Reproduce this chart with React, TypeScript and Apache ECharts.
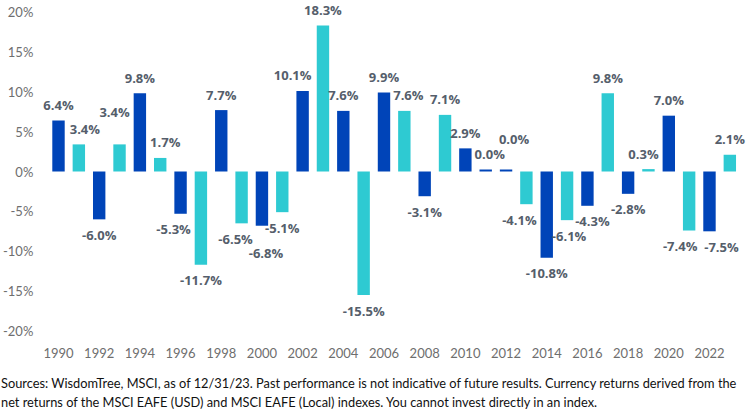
import React, { useEffect, useRef } from "react";
import * as echarts from "echarts";

const years = [
  "1990", "1991", "1992", "1993", "1994", "1995", "1996", "1997", "1998", "1999",
  "2000", "2001", "2002", "2003", "2004", "2005", "2006", "2007", "2008", "2009",
  "2010", "2011", "2012", "2013", "2014", "2015", "2016", "2017", "2018", "2019",
  "2020", "2021", "2022", "2023",
];
const returns = [
  6.4, 3.4, -6.0, 3.4, 9.8, 1.7, -5.3, -11.7, 7.7, -6.5,
  -6.8, -5.1, 10.1, 18.3, 7.6, -15.5, 9.9, 7.6, -3.1, 7.1,
  2.9, 0.0, 0.0, -4.1, -10.8, -6.1, -4.3, 9.8, -2.8, 0.3,
  7.0, -7.4, -7.5, 2.1,
];
// colour group per bar: 0 = dark blue, 1 = cyan
const colorGroup = [
  0, 1, 0, 1, 0, 1, 0, 1, 0, 1,
  0, 1, 0, 1, 0, 1, 0, 1, 0, 1,
  0, 0, 0, 1, 0, 1, 0, 1, 0, 1,
  0, 1, 0, 1,
];
const yTicks = { min: -20, max: 20, interval: 5 };
const footnote = [
  "Sources: WisdomTree, MSCI, as of 12/31/23. Past performance is not indicative of future results. Currency returns derived from the",
  "net returns of the MSCI EAFE (USD) and MSCI EAFE (Local) indexes. You cannot invest directly in an index.",
];

const COLORS = ["#0044B8", "#2ECAD2"];
const LABEL_COLOR = "#555E6B";
const AXIS_COLOR = "#6E6E6E";
const NARROW = "Lato, 'Open Sans', sans-serif";

// manual label nudges (style only), [dx, dy] in px
const labelOffsets: Record<string, [number, number]> = {
  "1991": [6, 0],
  "1993": [-5, -17],
  "1995": [5, 0],
  "1996": [-7, 0],
  "1999": [-6, 0],
  "2000": [4, 12],
  "2002": [-10, 0],
  "2007": [4, 0],
  "2011": [4, 0],
  "2012": [8, -15],
  "2013": [-7, 0],
  "2015": [2, 0],
  "2016": [5, 0],
  "2019": [-5, 0],
  "2021": [-9, 0],
  "2022": [12, 0],
};

export default function App() {
  const ref = useRef<HTMLDivElement>(null);
  useEffect(() => {
    if (!ref.current) return;
    const chart = echarts.init(ref.current, undefined, { renderer: "svg" });
    const data = returns.map((v, i) => ({
      value: v,
      itemStyle: { color: COLORS[colorGroup[i]] },
      label: {
        position: v < 0 ? "bottom" : "top",
        offset: labelOffsets[years[i]] || [0, 0],
      },
    }));
    chart.setOption({
      animation: false,
      backgroundColor: "#ffffff",
      grid: { left: 46, right: 7, top: 12, bottom: 86, containLabel: false },
      xAxis: {
        type: "category",
        data: years,
        axisLine: { show: false },
        axisTick: { show: false },
        axisLabel: {
          interval: 1,
          color: AXIS_COLOR,
          fontFamily: NARROW,
          fontSize: 13,
          margin: 15,
        },
      },
      yAxis: {
        type: "value",
        min: yTicks.min,
        max: yTicks.max,
        interval: yTicks.interval,
        splitLine: { show: false },
        axisLine: { show: false },
        axisTick: { show: false },
        axisLabel: {
          color: AXIS_COLOR,
          fontFamily: NARROW,
          fontSize: 13,
          margin: 15,
          formatter: (v: number) => `${v}%`,
        },
      },
      series: [
        {
          type: "bar",
          data,
          barWidth: "61%",
          barMinHeight: 2,
          label: {
            show: true,
            distance: 9,
            color: LABEL_COLOR,
            fontFamily: "'Open Sans', sans-serif",
            fontWeight: "bold",
            fontSize: 13,
            formatter: (p: any) => `${Number(p.value).toFixed(1)}%`,
          },
        },
      ],
      graphic: footnote.map((t, i) => ({
        type: "text",
        left: 1,
        top: 376 + i * 19,
        style: {
          text: t,
          fill: "#111111",
          font: `12.8px ${NARROW}`,
        },
      })),
    });
    return () => chart.dispose();
  }, []);
  return (
    <div
      ref={ref}
      style={{ position: "fixed", left: 0, top: 0, width: 747, height: 417 }}
    />
  );
}
